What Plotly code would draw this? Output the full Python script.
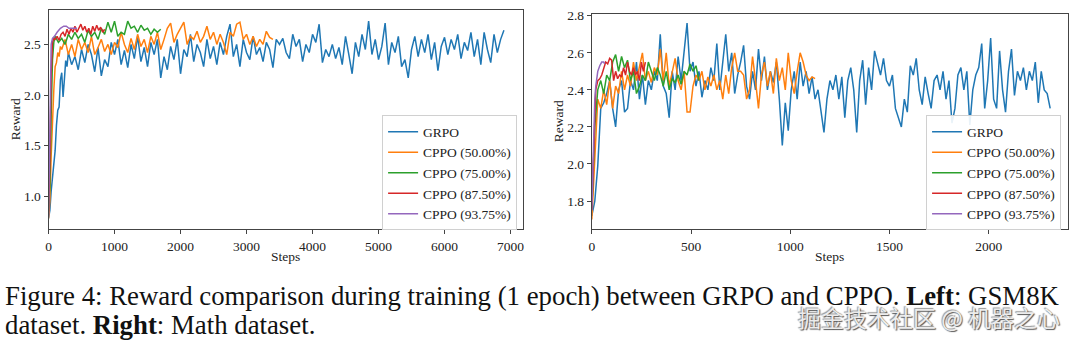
import numpy as np
import plotly.graph_objects as go

# ---------------- Left: GSM8K ----------------
grpo_l_early_steps = [0, 20, 40, 60, 80, 100, 120, 140, 160, 180, 200, 220, 240, 260, 280]
grpo_l_early = [0.78, 0.86, 1.05, 1.20, 1.35, 1.45, 1.70, 1.85, 1.88, 2.15, 2.22, 1.98, 2.15, 2.34, 2.28]
grpo_l_main = [
    2.42, 2.30, 2.38, 2.25, 2.45, 2.32, 2.50, 2.40, 2.23, 2.47,  # 300-750
    2.19, 2.35, 2.28, 2.52, 2.40, 2.55, 2.30, 2.44, 2.27, 2.50,  # 800-1250
    2.36, 2.58, 2.33, 2.47, 2.28, 2.52, 2.40, 2.55, 2.17, 2.38,  # 1300-1750
    2.25, 2.48, 2.35, 2.55, 2.21, 2.45, 2.38, 2.60, 2.33, 2.50,  # 1800-2250
    2.42, 2.28, 2.55, 2.36, 2.48, 2.30, 2.52, 2.40, 2.58, 2.70,  # 2300-2750
    2.38, 2.50, 2.28, 2.55, 2.42, 2.35, 2.58, 2.40, 2.47, 2.33,  # 2800-3250
    2.52, 2.45, 2.27, 2.55, 2.50, 2.56, 2.42, 2.36, 2.60, 2.48,  # 3300-3750
    2.55, 2.33, 2.50, 2.42, 2.60, 2.52, 2.70, 2.32, 2.45, 2.38,  # 3800-4250
    2.50, 2.36, 2.47, 2.30, 2.58, 2.40, 2.21, 2.52, 2.38, 2.60,  # 4300-4750
    2.45, 2.73, 2.40, 2.55, 2.35, 2.48, 2.71, 2.30, 2.52, 2.42,  # 4800-5250
    2.58, 2.28, 2.35, 2.17, 2.45, 2.58, 2.38, 2.55, 2.42, 2.60,  # 5300-5750
    2.35, 2.52, 2.24, 2.48, 2.57, 2.40, 2.55, 2.45, 2.60, 2.36,  # 5800-6250
    2.52, 2.44, 2.62, 2.38, 2.55, 2.30, 2.62, 2.45, 2.32, 2.60,  # 6300-6750
    2.42, 2.55, 2.64,                                            # 6800-6900
]
grpo_l_steps = grpo_l_early_steps + list(range(300, 300 + 50 * len(grpo_l_main), 50))
grpo_l = grpo_l_early + grpo_l_main

c50_l_early_steps = [0, 20, 40, 60, 80, 100, 120, 140, 160, 180]
c50_l_early = [0.78, 0.95, 1.40, 1.80, 2.05, 2.28, 2.32, 2.42, 2.38, 2.48]
c50_l_main = [
    2.45, 2.55, 2.40, 2.50, 2.38, 2.55, 2.45, 2.52, 2.42, 2.58,  # 200-650
    2.40, 2.47, 2.55, 2.43, 2.50, 2.40, 2.52, 2.47, 2.62, 2.50,  # 700-1150
    2.42, 2.56, 2.45, 2.60, 2.48, 2.55, 2.42, 2.58, 2.50, 2.62,  # 1200-1650
    2.45, 2.55, 2.66, 2.71, 2.52, 2.60, 2.66, 2.72, 2.50, 2.58,  # 1700-2150
    2.55, 2.63, 2.52, 2.58, 2.68, 2.55, 2.62, 2.50, 2.60, 2.52,  # 2200-2650
    2.40, 2.62, 2.58, 2.70, 2.72, 2.55, 2.60, 2.50, 2.58, 2.48,  # 2700-3150
    2.55, 2.50, 2.63, 2.57, 2.55,                                # 3200-3400
]
c50_l_steps = c50_l_early_steps + list(range(200, 200 + 50 * len(c50_l_main), 50))
c50_l = c50_l_early + c50_l_main

c75_l_early_steps = [0, 20, 40, 60, 80]
c75_l_early = [0.85, 1.10, 1.80, 2.35, 2.52]
c75_l_main = [
    2.58, 2.52, 2.56, 2.50, 2.60, 2.55, 2.62, 2.56, 2.60, 2.52,  # 100-550
    2.64, 2.58, 2.62, 2.55, 2.66, 2.60, 2.72, 2.62, 2.73, 2.58,  # 600-1050
    2.62, 2.60, 2.73, 2.66, 2.68, 2.62, 2.69, 2.64, 2.66, 2.60,  # 1100-1550
    2.65, 2.62, 2.65,                                            # 1600-1700
]
c75_l_steps = c75_l_early_steps + list(range(100, 100 + 50 * len(c75_l_main), 50))
c75_l = c75_l_early + c75_l_main

c875_l_early_steps = [0, 20, 40, 60, 80]
c875_l_early = [0.85, 1.30, 2.20, 2.52, 2.56]
c875_l_main = [
    2.55, 2.58, 2.54, 2.60, 2.62, 2.58, 2.65, 2.60, 2.66, 2.62,  # 100-370
    2.68, 2.62, 2.66, 2.70, 2.64, 2.68, 2.62, 2.66, 2.60, 2.68,  # 400-670
    2.63, 2.69, 2.64, 2.67, 2.62, 2.65,                          # 700-850
]
c875_l_steps = c875_l_early_steps + list(range(100, 100 + 30 * len(c875_l_main), 30))
c875_l = c875_l_early + c875_l_main

c9375_l_steps = [0, 10, 20, 30, 40, 60, 90, 130, 180, 230, 270, 310, 350, 390, 430]
c9375_l = [0.80, 1.20, 1.90, 2.30, 2.50, 2.56, 2.58, 2.62, 2.66, 2.68, 2.68, 2.66, 2.66, 2.66, 2.66]

# ---------------- Right: Math ----------------
grpo_r = [
    1.72, 1.80, 1.99, 2.30, 2.33, 2.38, 2.45, 2.30, 2.20, 2.40,  # 0-135
    2.45, 2.28, 2.30, 2.45, 2.40, 2.55, 2.35, 2.48, 2.32, 2.45,  # 150-285
    2.40, 2.50, 2.45, 2.70, 2.42, 2.38, 2.25, 2.50, 2.40, 2.58,  # 300-435
    2.45, 2.60, 2.76, 2.50, 2.55, 2.42, 2.50, 2.36, 2.45, 2.40,  # 450-585
    2.52, 2.45, 2.65, 2.40, 2.55, 2.70, 2.50, 2.60, 2.38, 2.48,  # 600-735
    2.55, 2.64, 2.42, 2.35, 2.50, 2.40, 2.62, 2.45, 2.58, 2.40,  # 750-885
    2.50, 2.44, 2.55, 2.35, 2.10, 2.33, 2.18, 2.40, 2.50, 2.35,  # 900-1035
    2.55, 2.42, 2.50, 2.38, 2.47, 2.35, 2.40, 2.28, 2.17, 2.35,  # 1050-1185
    2.45, 2.40, 2.48, 2.35, 2.47, 2.25, 2.45, 2.52, 2.40, 2.17,  # 1200-1335
    2.45, 2.56, 2.32, 2.52, 2.40, 2.61, 2.55, 2.48, 2.57, 2.45,  # 1350-1485
    2.42, 2.48, 2.30, 2.25, 2.20, 2.35, 2.28, 2.53, 2.48, 2.57,  # 1500-1635
    2.40, 2.32, 2.47, 2.38, 2.30, 2.45, 2.48, 2.40, 2.50, 2.35,  # 1650-1785
    2.45, 2.22, 2.30, 2.48, 2.52, 2.40, 2.50, 2.21, 2.40, 2.48,  # 1800-1935
    2.52, 2.65, 2.30, 2.45, 2.68, 2.35, 2.30, 2.61, 2.40, 2.28,  # 1950-2085
    2.50, 2.62, 2.37, 2.50, 2.45, 2.52, 2.40, 2.50, 2.45, 2.55,  # 2100-2235
    2.33, 2.50, 2.40, 2.38, 2.30,                                # 2250-2310
]
grpo_r_steps = list(range(0, 15 * len(grpo_r), 15))

c50_r = [
    1.70, 2.00, 2.35, 2.30, 2.40, 2.32, 2.45, 2.30, 2.42, 2.38,  # 0-135
    2.50, 2.40, 2.48, 2.42, 2.55, 2.45, 2.52, 2.60, 2.45, 2.50,  # 150-285
    2.44, 2.52, 2.48, 2.62, 2.45, 2.60, 2.42, 2.50, 2.57, 2.45,  # 300-435
    2.40, 2.50, 2.28, 2.28, 2.42, 2.48, 2.45, 2.50, 2.40, 2.47,  # 450-585
    2.42, 2.48, 2.40, 2.45, 2.35, 2.48, 2.38, 2.52, 2.60, 2.50,  # 600-735
    2.50, 2.48, 2.35, 2.40, 2.58, 2.45, 2.30, 2.48, 2.55, 2.42,  # 750-885
    2.50, 2.38, 2.57, 2.45, 2.52, 2.40, 2.60, 2.45, 2.38, 2.50,  # 900-1035
    2.60, 2.55, 2.48, 2.45, 2.47, 2.46,                          # 1050-1125
]
c50_r_steps = list(range(0, 15 * len(c50_r), 15))

c75_r = [
    1.75, 2.20, 2.40, 2.45, 2.38, 2.48, 2.45, 2.55, 2.59, 2.50,  # 0-135
    2.58, 2.52, 2.56, 2.45, 2.50, 2.38, 2.42, 2.48, 2.45, 2.55,  # 150-285
    2.50, 2.45, 2.52, 2.48, 2.42, 2.50, 2.40, 2.46, 2.44, 2.48,  # 300-435
    2.43, 2.50, 2.48, 2.54, 2.50, 2.53, 2.45,                    # 450-540
]
c75_r_steps = list(range(0, 15 * len(c75_r), 15))

c875_r = [
    1.75, 2.10, 2.40, 2.45, 2.46, 2.48, 2.52, 2.55, 2.54, 2.57,  # 0-90
    2.56, 2.45, 2.50, 2.46, 2.48, 2.47, 2.52, 2.48, 2.55, 2.50,  # 100-190
    2.48, 2.52, 2.48, 2.50, 2.45, 2.55, 2.50, 2.55,              # 200-270
]
c875_r_steps = list(range(0, 10 * len(c875_r), 10))

c9375_r_steps = [0, 5, 10, 15, 20, 25, 30, 40, 50, 60, 65]
c9375_r = [1.75, 1.95, 2.20, 2.35, 2.42, 2.46, 2.50, 2.53, 2.55, 2.55, 2.54]

names = ["GRPO", "CPPO (50.00%)", "CPPO (75.00%)", "CPPO (87.50%)", "CPPO (93.75%)"]
colors = ["#1f77b4", "#ff7f0e", "#2ca02c", "#d62728", "#9467bd"]

left_series = [(grpo_l_steps, grpo_l), (c50_l_steps, c50_l), (c75_l_steps, c75_l),
               (c875_l_steps, c875_l), (c9375_l_steps, c9375_l)]
right_series = [(grpo_r_steps, grpo_r), (c50_r_steps, c50_r), (c75_r_steps, c75_r),
                (c875_r_steps, c875_r), (c9375_r_steps, c9375_r)]

SERIF = "Liberation Serif, Times New Roman, serif"
FS = 13.5

fig = go.Figure()
for (xs, ys), n, c in zip(left_series, names, colors):
    fig.add_trace(go.Scatter(x=xs, y=ys, mode="lines", name=n, line=dict(color=c, width=1.5),
                             xaxis="x", yaxis="y", legend="legend"))
for (xs, ys), n, c in zip(right_series, names, colors):
    fig.add_trace(go.Scatter(x=xs, y=ys, mode="lines", name=n, line=dict(color=c, width=1.5),
                             xaxis="x2", yaxis="y2", legend="legend2"))

W, H = 1080, 344
def px_x(p):
    return p / W
def px_y(p):
    return 1 - p / H

axis_common = dict(showline=True, mirror=True, linecolor="#444", linewidth=1,
                   ticks="outside", ticklen=4, tickcolor="#444", showgrid=False, zeroline=False,
                   tickfont=dict(family=SERIF, size=FS, color="#222"))

fig.update_layout(
    width=W, height=H, margin=dict(l=0, r=0, t=0, b=0),
    paper_bgcolor="white", plot_bgcolor="white",
    xaxis=dict(domain=[px_x(45.7), px_x(522)], range=[0, 7190], tickvals=[0, 1000, 2000, 3000, 4000, 5000, 6000, 7000],
               anchor="y", **axis_common),
    yaxis=dict(domain=[px_y(227.7), px_y(5)], range=[0.672, 2.841], tickvals=[1.0, 1.5, 2.0, 2.5],
               ticktext=["1.0", "1.5", "2.0", "2.5"], anchor="x", **axis_common),
    xaxis2=dict(domain=[px_x(591), px_x(1069)], range=[0, 2400], tickvals=[0, 500, 1000, 1500, 2000],
                anchor="y2", **axis_common),
    yaxis2=dict(domain=[px_y(227.7), px_y(9)], range=[1.647, 2.81], tickvals=[1.8, 2.0, 2.2, 2.4, 2.6, 2.8],
                ticktext=["1.8", "2.0", "2.2", "2.4", "2.6", "2.8"], anchor="x2", **axis_common),
    legend=dict(x=px_x(516), y=px_y(112), xanchor="right", yanchor="top",
                bgcolor="rgba(255,255,255,0.9)", bordercolor="#d0d0d0", borderwidth=1,
                font=dict(family=SERIF, size=FS, color="#222"), itemwidth=30, tracegroupgap=0),
    legend2=dict(x=px_x(1062), y=px_y(112), xanchor="right", yanchor="top",
                 bgcolor="rgba(255,255,255,0.9)", bordercolor="#d0d0d0", borderwidth=1,
                 font=dict(family=SERIF, size=FS, color="#222"), itemwidth=30, tracegroupgap=0),
    showlegend=True,
)

ann_font = dict(family=SERIF, size=FS, color="#222")
fig.add_annotation(text="Steps", x=px_x(284), y=px_y(255), xref="paper", yref="paper",
                   showarrow=False, font=ann_font, xanchor="center", yanchor="middle")
fig.add_annotation(text="Steps", x=px_x(830), y=px_y(255), xref="paper", yref="paper",
                   showarrow=False, font=ann_font, xanchor="center", yanchor="middle")
fig.add_annotation(text="Reward", x=px_x(12), y=px_y(116), xref="paper", yref="paper",
                   showarrow=False, font=ann_font, textangle=-90, xanchor="center", yanchor="middle")
fig.add_annotation(text="Reward", x=px_x(557), y=px_y(118), xref="paper", yref="paper",
                   showarrow=False, font=ann_font, textangle=-90, xanchor="center", yanchor="middle")

cap_font = dict(family=SERIF, size=26.8, color="#111")
fig.add_annotation(
    text="Figure 4: Reward comparison during training (1 epoch) between GRPO and CPPO. <b>Left</b>: GSM8K",
    x=0, y=px_y(295), xref="paper", yref="paper", showarrow=False, font=cap_font,
    xanchor="left", yanchor="middle")
fig.add_annotation(
    text="dataset. <b>Right</b>: Math dataset.",
    x=0, y=px_y(325), xref="paper", yref="paper", showarrow=False, font=cap_font,
    xanchor="left", yanchor="middle")

fig.add_annotation(
    text="掘金技术社区 @ 机器之心",
    x=px_x(1063), y=px_y(317), xref="paper", yref="paper", showarrow=False,
    font=dict(family="Noto Sans CJK SC", size=23, color="#ececec",
              shadow="1px 1px 1px #555, -1px -1px 1px #999"),
    xanchor="right", yanchor="middle")

fig.write_html("out.html")
